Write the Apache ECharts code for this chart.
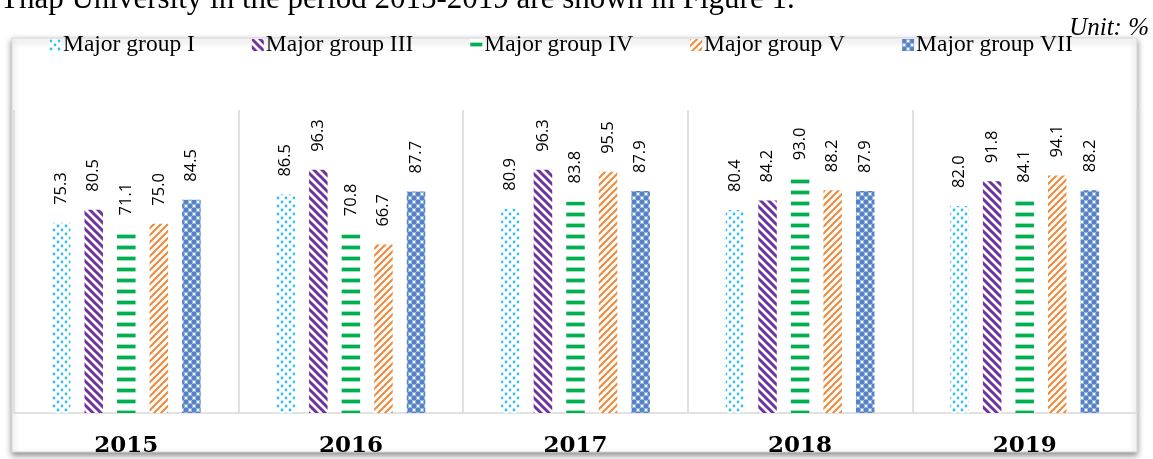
<!DOCTYPE html>
<html>
<head>
<meta charset="utf-8">
<script src="https://cdn.jsdelivr.net/npm/echarts@6/dist/echarts.min.js"></script>
<style>
html,body{margin:0;padding:0;background:#fff;}
#chart{width:1153px;height:459px;}
</style>
</head>
<body>
<div id="chart"></div>
<script>
var years = ['2015', '2016', '2017', '2018', '2019'];
var seriesNames = ['Major group I', 'Major group III', 'Major group IV', 'Major group V', 'Major group VII'];
var groupI = [75.3, 86.5, 80.9, 80.4, 82.0];
var groupIII = [80.5, 96.3, 96.3, 84.2, 91.8];
var groupIV = [71.1, 70.8, 83.8, 93.0, 84.1];
var groupV = [75.0, 66.7, 95.5, 88.2, 94.1];
var groupVII = [84.5, 87.7, 87.9, 87.9, 88.2];
var headerText = 'Thap University in the period 2015-2019 are shown in Figure 1.';
var unitText = 'Unit: %';

function tile(w, h, draw) {
  var c = document.createElement('canvas');
  c.width = w; c.height = h;
  var ctx = c.getContext('2d');
  ctx.fillStyle = '#ffffff';
  ctx.fillRect(0, 0, w, h);
  draw(ctx, w, h);
  return { image: c, repeat: 'repeat' };
}

var patDots = tile(8, 8, function (ctx) {
  ctx.fillStyle = '#2fc0f2';
  [[2, 2], [6, 6]].forEach(function (p) {
    ctx.beginPath(); ctx.arc(p[0], p[1], 1.4, 0, Math.PI * 2); ctx.fill();
  });
});
var patPurple = tile(8, 8, function (ctx, s) {
  ctx.strokeStyle = '#7030a0';
  ctx.lineWidth = 3;
  for (var k = -1; k <= 1; k++) {
    ctx.beginPath(); ctx.moveTo(k * s - 2, -2); ctx.lineTo(k * s + s + 2, s + 2); ctx.stroke();
  }
});
var patGreen = tile(4, 11, function (ctx) {
  ctx.fillStyle = '#9fe0bd';
  ctx.fillRect(0, 3, 4, 5);
  ctx.fillStyle = '#00b050';
  ctx.fillRect(0, 4, 4, 3);
});
var patOrange = tile(7, 7, function (ctx, s) {
  ctx.strokeStyle = '#f0893a';
  ctx.lineWidth = 2;
  for (var k = -1; k <= 1; k++) {
    ctx.beginPath(); ctx.moveTo(k * s - 2, s + 2); ctx.lineTo(k * s + s + 2, -2); ctx.stroke();
  }
});
var patChecker = tile(8, 8, function (ctx) {
  ctx.fillStyle = '#5583c8';
  ctx.fillRect(0, 0, 4, 4);
  ctx.fillRect(4, 4, 4, 4);
  ctx.fillStyle = '#9ab6e0';
  ctx.fillRect(4, 0, 4, 4);
  ctx.fillRect(0, 4, 4, 4);
  ctx.fillStyle = '#ffffff';
  ctx.fillRect(5, 1, 2, 2);
  ctx.fillRect(1, 5, 2, 2);
});

var patterns = [patDots, patPurple, patGreen, patOrange, patChecker];
var values = [groupI, groupIII, groupIV, groupV, groupVII];

var chart = echarts.init(document.getElementById('chart'), null, { renderer: 'canvas' });

var series = seriesNames.map(function (name, i) {
  return {
    name: name,
    type: 'bar',
    data: values[i],
    barWidth: 18.5,
    barGap: '76%',
    itemStyle: { color: patterns[i] },
    label: {
      show: true,
      position: 'top',
      rotate: 90,
      align: 'left',
      verticalAlign: 'middle',
      distance: 18,
      fontFamily: 'Open Sans',
      fontSize: 16.5,
      color: '#000',
      formatter: function (p) { return p.value.toFixed(1); }
    },
    emphasis: { disabled: true }
  };
});

chart.setOption({
  animation: false,
  backgroundColor: '#ffffff',
  graphic: [
    {
      type: 'rect',
      z: -10,
      shape: { x: 12, y: 38, width: 1125, height: 414 },
      style: {
        fill: '#ffffff',
        stroke: '#d9d9d9',
        lineWidth: 1,
        shadowBlur: 6,
        shadowColor: 'rgba(0,0,0,0.45)',
        shadowOffsetX: 0,
        shadowOffsetY: 3
      }
    },
    {
      type: 'text',
      left: 0,
      top: -16,
      style: {
        text: headerText,
        font: '31px "Liberation Serif"',
        fill: '#000'
      }
    },
    {
      type: 'text',
      right: 4,
      top: 16,
      style: {
        text: unitText,
        font: 'italic 25px "Liberation Serif"',
        fill: '#000'
      }
    }
  ],
  legend: {
    data: seriesNames,
    top: 28,
    left: 44,
    itemGap: 57,
    itemWidth: 12,
    itemHeight: 12,
    icon: 'rect',
    textStyle: {
      fontFamily: 'Liberation Serif',
      fontSize: 23.5,
      color: '#000',
      padding: [0, 0, 0, -3]
    }
  },
  grid: { left: 14, right: 16, top: 110, bottom: 46, containLabel: false },
  xAxis: {
    type: 'category',
    data: years,
    axisLine: { show: true, lineStyle: { color: '#d9d9d9', width: 1.5 } },
    axisTick: { show: false },
    splitLine: { show: true, lineStyle: { color: '#d9d9d9', width: 1.5 } },
    axisLabel: {
      margin: 22,
      fontFamily: 'DejaVu Serif',
      fontWeight: 'bold',
      fontSize: 23,
      color: '#000'
    }
  },
  yAxis: {
    type: 'value',
    min: 0,
    max: 120,
    show: false,
    splitLine: { show: false }
  },
  series: series
});
</script>
</body>
</html>
